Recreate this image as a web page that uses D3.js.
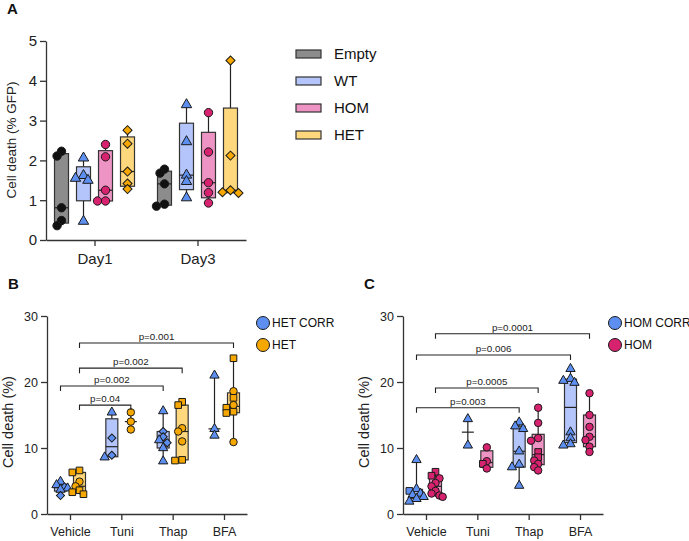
<!DOCTYPE html>
<meta charset="utf-8">
<style>
  body { margin: 0; padding: 0; background: #fff; }
  svg { display: block; background: #fff; font-family: "Liberation Sans", Arial, sans-serif; }
  .axis path, .axis line { stroke: #333; stroke-width: 1.3px; }
  .axis text { fill: #222; }
</style>
<script src="https://cdn.jsdelivr.net/npm/d3@7"></script>
<svg id="vis" width="689" height="541"></svg>
<script>

// ---- panel A data ----
const daysA = ["Day1", "Day3"];
const groupsA = ["Empty", "WT", "HOM", "HET"];
const emptyA = [[2.23, 2.11, 0.81, 0.49, 0.36], [1.78, 1.68, 1.41, 0.90, 0.85]];
const wtA    = [[2.06, 1.62, 1.55, 1.50, 0.47], [3.40, 2.47, 1.63, 1.47, 1.06]];
const homA   = [[2.40, 2.09, 1.25, 0.98, 0.98], [3.20, 2.21, 1.44, 1.19, 0.93]];
const hetA   = [[2.76, 2.42, 1.72, 1.42, 1.28], [4.51, 2.12, 1.25, 1.20, 1.18]];
const yTicksA = [0, 1, 2, 3, 4, 5];

// ---- panel B / C shared ----
const treatments = ["Vehicle", "Tuni", "Thap", "BFA"];
const yTicksBC = [0, 10, 20, 30];

// ---- panel B data ----
const groupsB = ["HET CORR", "HET"];
const hetCorrB = [[4.9, 4.4, 4.1, 3.9, 3.7, 2.8], [15.4, 11.5, 8.9, 8.6],
                  [15.6, 12.5, 11.7, 11.2, 10.8, 10.0, 8.0], [21.0, 12.9, 11.9]];
const hetCorrShapesB = [["t","t","d","t","t","d"], ["t","d","d","t"],
                        ["t","d","d","t","d","t","t"], ["t","t","t"]];
const hetB = [[6.6, 6.3, 4.9, 4.2, 3.6, 3.3, 3.0], [15.4, 14.0, 12.8],
              [17.0, 16.5, 13.0, 12.5, 11.0, 8.2, 8.1], [23.6, 18.6, 17.6, 16.5, 16.1, 15.5, 15.3, 10.9]];
const hetShapesB = [["s","s","c","c","s","s","s"], ["c","c","c"],
                    ["s","s","c","c","c","s","s"], ["s","c","s","c","s","s","s","c"]];
// [from treatment, from group, to treatment, to group, height, label]
const bracketsB = [
  ["Vehicle", 1, "BFA", 1, 25.9, "p=0.001"],
  ["Vehicle", 1, "Thap", 1, 22.1, "p=0.002"],
  ["Vehicle", 0, "Thap", 0, 19.4, "p=0.002"],
  ["Vehicle", 1, "Tuni", 1, 16.5, "p=0.04"]
];

// ---- panel C data ----
const groupsC = ["HOM CORR", "HOM"];
const homCorrC = [[8.2, 3.8, 3.5, 3.1, 2.9, 2.6, 2.3, 1.9], [14.4, 10.4],
                  [13.9, 13.3, 12.9, 9.5, 7.5, 7.1, 4.3], [22.0, 20.5, 20.2, 19.9, 12.4, 11.5, 10.6, 10.4]];
const homCorrShapesC = [["t","t","s","t","t","t","t","t"], ["t","t"],
                        ["t","t","t","t","t","t","t"], ["t","t","t","t","t","t","t","t"]];
const homC = [[6.4, 5.8, 5.4, 4.7, 4.2, 3.5, 3.1, 2.8, 2.6], [10.1, 8.0, 7.6, 6.9],
              [16.1, 13.8, 11.5, 11.1, 9.4, 8.6, 8.1, 7.6, 7.1, 6.6], [18.3, 15.0, 13.2, 11.7, 11.2, 10.2, 9.4]];
const homShapesC = [["s","s","c","c","c","c","c","c","c"], ["c","c","s","c"],
                    ["c","c","c","c","s","s","c","c","c","c"], ["c","c","c","c","c","c","c"]];
const bracketsC = [
  ["Vehicle", 1, "BFA", 1, 27.3, "p=0.0001"],
  ["Vehicle", 0, "BFA", 0, 24.1, "p=0.006"],
  ["Vehicle", 1, "Thap", 1, 19.1, "p=0.0005"],
  ["Vehicle", 0, "Thap", 0, 16.1, "p=0.003"]
];

// colours
const boxFill = { Empty: "#8c8c8c", WT: "#b3c5fa", HOM: "#ee94c4", HET: "#ffd87e" };
const dotFill = { Empty: "#111", WT: "#5d8ff0", HOM: "#d7226f", HET: "#f6a800" };

const svg = d3.select("#vis");

// GraphPad style quartiles
function stats(vals) {
  const s = vals.slice().sort(d3.ascending), n = s.length;
  const q = p => {
    let r = Math.min(Math.max(p * (n + 1), 1), n);
    const i = Math.floor(r), f = r - i;
    return i >= n ? s[n - 1] : s[i - 1] + f * (s[i] - s[i - 1]);
  };
  return { min: s[0], max: s[n - 1], q1: q(0.25), med: d3.median(s), q3: q(0.75), n: n };
}

function symbolPath(code, size) {
  const t = { t: d3.symbolTriangle, c: d3.symbolCircle, s: d3.symbolSquare, d: d3.symbolSquare }[code];
  return d3.symbol(t, size)();
}

// horizontal dodge so overlapping points sit side by side
function dodge(vals, y, r) {
  const idx = vals.map((v, i) => i).sort((a, b) => vals[b] - vals[a]);
  const cands = [0, -r, r, -r * 1.8, r * 1.8];
  const placed = [], out = [];
  idx.forEach(i => {
    const py = y(vals[i]);
    let cx = cands[cands.length - 1];
    for (const c of cands) {
      if (placed.every(p => Math.hypot(p.x - c, p.y - py) >= r * 1.2)) { cx = c; break; }
    }
    placed.push({ x: cx, y: py });
    out[i] = cx;
  });
  return out;
}

function drawBox(g, cx, vals, shapes, bfill, dfill, y, bw, size) {
  const st = stats(vals);
  const half = bw / 2;
  // whisker
  g.append("line").attr("x1", cx).attr("x2", cx)
    .attr("y1", y(st.min)).attr("y2", y(st.max))
    .attr("stroke", "#222").attr("stroke-width", 1.2);
  if (st.n >= 4) {
    g.append("rect").attr("x", cx - half).attr("width", bw)
      .attr("y", y(st.q3)).attr("height", y(st.q1) - y(st.q3))
      .attr("fill", bfill).attr("stroke", "#333").attr("stroke-width", 1.2);
  }
  g.append("line").attr("x1", cx - half).attr("x2", cx + half)
    .attr("y1", y(st.med)).attr("y2", y(st.med))
    .attr("stroke", "#222").attr("stroke-width", 1.2);
  const offs = dodge(vals, y, Math.sqrt(size) * 0.6);
  g.selectAll(null).data(vals).enter().append("path")
    .attr("d", (d, i) => symbolPath(shapes[i], shapes[i] === "d" ? size * 0.75 : shapes[i] === "t" ? size * 0.85 : size))
    .attr("transform", (d, i) => `translate(${cx + offs[i]},${y(d)})` + (shapes[i] === "d" ? " rotate(45)" : ""))
    .attr("fill", dfill).attr("stroke", "#1a1a1a").attr("stroke-width", 1);
}

function yAxis(g, y, x0, ticks, size) {
  g.append("g").attr("class", "axis").attr("transform", `translate(${x0},0)`)
    .call(d3.axisLeft(y).tickValues(ticks).tickFormat(d3.format("d")).tickSize(6).tickPadding(3).tickSizeOuter(0))
    .call(a => a.selectAll("text").attr("font-size", size).attr("font-family", "Liberation Sans, Arial"));
}

function xAxis(g, x, y0, size) {
  g.append("g").attr("class", "axis").attr("transform", `translate(0,${y0})`)
    .call(d3.axisBottom(x).tickSize(6).tickPadding(7).tickSizeOuter(0))
    .call(a => a.selectAll("text").attr("font-size", size).attr("font-family", "Liberation Sans, Arial"));
}

function panelLetter(x, y, t) {
  svg.append("text").attr("x", x).attr("y", y).attr("font-size", 15)
    .attr("font-weight", "bold").attr("fill", "#111").text(t);
}

function yLabel(x, y, t, size) {
  svg.append("text").attr("transform", `translate(${x},${y}) rotate(-90)`)
    .attr("text-anchor", "middle").attr("font-size", size).attr("fill", "#222").text(t);
}

// ================= Panel A =================
(function () {
  const g = svg.append("g");
  const y = d3.scaleLinear().domain([0, 5]).range([240, 41]);
  const x = d3.scalePoint().domain(daysA).range([46, 246]).padding(0.471);
  const xg = d3.scaleBand().domain(groupsA).range([-44, 44]);
  const series = { Empty: emptyA, WT: wtA, HOM: homA, HET: hetA };
  const shp = { Empty: "c", WT: "t", HOM: "c", HET: "d" };

  yAxis(g, y, 46, yTicksA, 15);
  xAxis(g, x, 240, 15);

  daysA.forEach((day, di) => {
    groupsA.forEach(gr => {
      const vals = series[gr][di];
      drawBox(g, x(day) + xg(gr) + xg.bandwidth() / 2, vals, vals.map(() => shp[gr]),
        boxFill[gr], dotFill[gr], y, 14, 55);
    });
  });

  yLabel(16, 140, "Cell death (% GFP)", 13.5);
  panelLetter(7, 14, "A");

  const lg = svg.append("g").selectAll("g").data(groupsA).enter().append("g")
    .attr("transform", (d, i) => `translate(296,${54 + i * 27})`);
  lg.append("rect").attr("x", 0).attr("y", -4).attr("width", 25).attr("height", 8)
    .attr("fill", d => boxFill[d]).attr("stroke", "#333").attr("stroke-width", 1.2);
  lg.append("text").attr("x", 38).attr("dy", "0.35em").attr("font-size", 15)
    .attr("fill", "#111").text(d => d);
})();

// ================= Panels B & C =================
function panelBC(opts) {
  const g = svg.append("g");
  const y = d3.scaleLinear().domain([0, 30]).range([514, 316]);
  const x = d3.scalePoint().domain(treatments).range([opts.x0, opts.x0 + 200]).padding(0.448);
  const xg = d3.scaleBand().domain([0, 1]).range([-19, 19]);
  const pos = (t, k) => x(t) + xg(k) + xg.bandwidth() / 2;

  yAxis(g, y, opts.x0, yTicksBC, 12.5);
  xAxis(g, x, 514, 12.5);

  treatments.forEach((t, ti) => {
    drawBox(g, pos(t, 0), opts.corr[ti], opts.corrShapes[ti], boxFill.WT, dotFill.WT, y, 12, 44);
    drawBox(g, pos(t, 1), opts.mut[ti], opts.mutShapes[ti], opts.mutBox, opts.mutDot, y, 12, 44);
  });

  const br = g.append("g").selectAll("g").data(opts.brackets).enter().append("g");
  br.append("path")
    .attr("d", d => `M${pos(d[0], d[1])},${y(d[4]) + 5}V${y(d[4])}H${pos(d[2], d[3])}V${y(d[4]) + 5}`)
    .attr("fill", "none").attr("stroke", "#222").attr("stroke-width", 1.1);
  br.append("text")
    .attr("x", d => (pos(d[0], d[1]) + pos(d[2], d[3])) / 2)
    .attr("y", d => y(d[4]) - 3)
    .attr("text-anchor", "middle").attr("font-size", 9.8).attr("fill", "#222")
    .text(d => d[5]);

  yLabel(opts.x0 - 34, 422, "Cell death (%)", 14.5);
  panelLetter(opts.x0 - 39, 289, opts.letter);

  const lg = svg.append("g").selectAll("g").data(opts.legend).enter().append("g")
    .attr("transform", (d, i) => `translate(${opts.legendX},${323 + i * 22})`);
  lg.append("circle").attr("r", 6.5)
    .attr("fill", (d, i) => i === 0 ? dotFill.WT : opts.mutDot)
    .attr("stroke", "#1a1a1a").attr("stroke-width", 1);
  lg.append("text").attr("x", 9).attr("dy", "0.35em").attr("font-size", 12)
    .attr("fill", "#111").text(d => d);
}

panelBC({
  x0: 47, letter: "B", corr: hetCorrB, corrShapes: hetCorrShapesB, mut: hetB, mutShapes: hetShapesB,
  mutBox: boxFill.HET, mutDot: dotFill.HET, brackets: bracketsB, legend: groupsB, legendX: 263
});
panelBC({
  x0: 403, letter: "C", corr: homCorrC, corrShapes: homCorrShapesC, mut: homC, mutShapes: homShapesC,
  mutBox: boxFill.HOM, mutDot: dotFill.HOM, brackets: bracketsC, legend: groupsC, legendX: 615
});

</script>
